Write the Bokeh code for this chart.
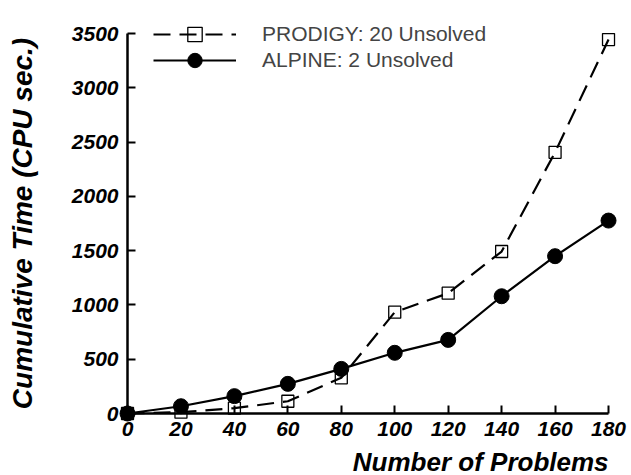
from bokeh.plotting import figure
from bokeh.models import Range1d, FixedTicker, Legend, LegendItem, Label
from bokeh.embed import file_html
from bokeh.resources import INLINE

problems = [0, 20, 40, 60, 80, 100, 120, 140, 160, 180]
prodigy_time = [0, 12, 49, 113, 329, 933, 1108, 1492, 2406, 3444]
alpine_time = [0, 67, 160, 273, 411, 559, 678, 1080, 1449, 1777]
x_ticks = [0, 20, 40, 60, 80, 100, 120, 140, 160, 180]
y_ticks = [0, 500, 1000, 1500, 2000, 2500, 3000, 3500]
prodigy_label = "PRODIGY: 20 Unsolved"
alpine_label = "ALPINE: 2 Unsolved"
x_title = "Number of Problems"
y_title = "Cumulative Time (CPU sec.)"

FONT = "Liberation Sans"

# frame covers the whole canvas; axes are pinned at data 0
p = figure(width=631, height=475, output_backend="svg", toolbar_location=None,
           x_range=Range1d(-47.53, 188.60), y_range=Range1d(-571.05, 3803.95),
           min_border=0, min_border_left=0, min_border_right=0,
           min_border_top=0, min_border_bottom=0)
p.outline_line_color = None
p.grid.visible = False
p.background_fill_color = "white"
p.border_fill_color = "white"

for ax, ticks, bounds in ((p.xaxis[0], x_ticks, (0, 180)), (p.yaxis[0], y_ticks, (0, 3500))):
    ax.ticker = FixedTicker(ticks=ticks)
    ax.fixed_location = 0
    ax.bounds = bounds
    ax.axis_line_width = 2.5
    ax.axis_line_color = "black"
    ax.major_tick_in = 8
    ax.major_tick_out = 0
    ax.major_tick_line_width = 2
    ax.major_tick_line_color = "black"
    ax.minor_tick_line_color = None
    ax.major_label_text_font = FONT
    ax.major_label_text_font_style = "bold italic"
    ax.major_label_text_font_size = "21px"
    ax.major_label_text_color = "black"
    ax.axis_label_text_font = FONT
    ax.axis_label_text_font_style = "bold italic"
    ax.axis_label_text_color = "black"

p.yaxis.axis_label = y_title
p.yaxis.axis_label_text_font_size = "28px"
p.xaxis.major_label_standoff = 8
p.yaxis.major_label_standoff = 9
p.yaxis.axis_label_standoff = 31

# x-axis title, right-aligned with the end of the axis
p.add_layout(Label(x=x_ticks[-1], y=14, y_units="screen", text=x_title,
                   text_align="right", text_baseline="alphabetic",
                   text_font=FONT, text_font_style="bold italic",
                   text_font_size="26px", text_color="black"))

pl = p.line(problems, prodigy_time, line_color="black", line_width=2.2, line_dash="17 9")
ps = p.scatter(problems, prodigy_time, marker="square", size=12, fill_color=None,
               line_color="black", line_width=1.3)
al = p.line(problems, alpine_time, line_color="black", line_width=2.2)
ac = p.scatter(problems, alpine_time, marker="circle", size=15, fill_color="black",
               line_color="black")

common = dict(padding=0, margin=0, spacing=0, glyph_width=83, glyph_height=36,
              label_height=20, label_standoff=26, label_text_font=FONT,
              label_text_font_size="21px", border_line_color=None,
              background_fill_alpha=0)
legend1 = Legend(items=[LegendItem(label=prodigy_label, renderers=[pl, ps])],
                 location=(153, 423), **common)
legend2 = Legend(items=[LegendItem(label=alpine_label, renderers=[al, ac])],
                 location=(153, 397), **common)
p.add_layout(legend1)
p.add_layout(legend2)

open("out.html", "w").write(file_html(p, INLINE))
